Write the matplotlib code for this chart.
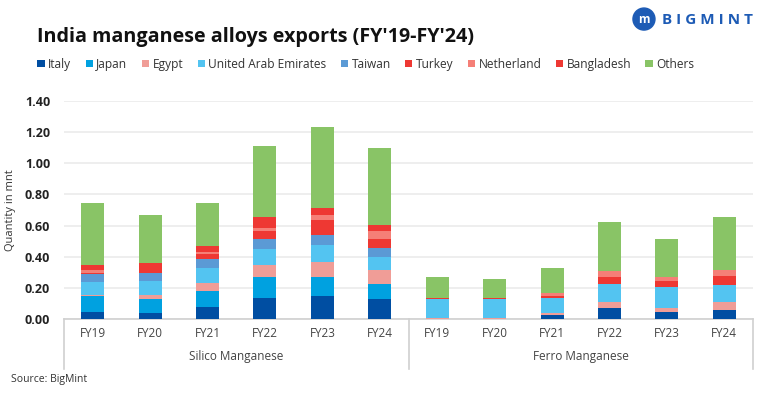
import matplotlib.pyplot as plt
import numpy as np
from matplotlib.patches import Ellipse

plt.rcParams['font.family'] = ['Open Sans', 'DejaVu Sans']

# categories
years = ['FY19', 'FY20', 'FY21', 'FY22', 'FY23', 'FY24']
groups = ['Silico Manganese', 'Ferro Manganese']

# values in mnt: first 6 = Silico, last 6 = Ferro
italy      = [0.045, 0.039, 0.077, 0.135, 0.148, 0.129,  0.000, 0.000, 0.026, 0.071, 0.045, 0.058]
japan      = [0.103, 0.090, 0.104, 0.136, 0.123, 0.097,  0.000, 0.000, 0.000, 0.000, 0.000, 0.000]
egypt      = [0.009, 0.026, 0.047, 0.077, 0.097, 0.090,  0.009, 0.009, 0.013, 0.041, 0.028, 0.054]
uae        = [0.082, 0.090, 0.101, 0.104, 0.109, 0.084,  0.120, 0.120, 0.096, 0.114, 0.133, 0.107]
taiwan     = [0.053, 0.052, 0.058, 0.064, 0.065, 0.058,  0.000, 0.000, 0.000, 0.000, 0.000, 0.000]
turkey     = [0.005, 0.064, 0.032, 0.052, 0.097, 0.058,  0.009, 0.009, 0.013, 0.045, 0.039, 0.058]
netherland = [0.015, 0.000, 0.009, 0.019, 0.032, 0.052,  0.000, 0.000, 0.018, 0.039, 0.026, 0.039]
bangladesh = [0.036, 0.000, 0.043, 0.065, 0.045, 0.038,  0.000, 0.000, 0.000, 0.000, 0.000, 0.000]
others     = [0.400, 0.310, 0.277, 0.458, 0.516, 0.491,  0.133, 0.120, 0.163, 0.316, 0.245, 0.336]

series = [
    ('Italy', italy, '#004EA2'),
    ('Japan', japan, '#00A1E0'),
    ('Egypt', egypt, '#F09D97'),
    ('United Arab Emirates', uae, '#53C4F1'),
    ('Taiwan', taiwan, '#5B9AD5'),
    ('Turkey', turkey, '#EE3833'),
    ('Netherland', netherland, '#F57F77'),
    ('Bangladesh', bangladesh, '#EE3833'),
    ('Others', others, '#89C466'),
]

fig = plt.figure(figsize=(7.63, 3.97), dpi=100)
ax = fig.add_axes([0.0839, 0.1965, 0.903, 0.549])

x = np.arange(12)
bottom = np.zeros(12)
for name, vals, col in series:
    ax.bar(x, vals, 0.4, bottom=bottom, color=col, label=name, zorder=3)
    bottom += np.array(vals)

ax.set_xlim(-0.5, 11.5)
ax.set_ylim(0, 1.4)
ax.set_yticks(np.arange(0, 1.41, 0.2))
ax.set_yticklabels([f'{v:.2f}' for v in np.arange(0, 1.41, 0.2)],
                   fontsize=9, fontweight='bold', color='#222222')
ax.tick_params(axis='y', length=0, pad=10)
ax.grid(axis='y', color='#EBEBEB', lw=1.2, zorder=0)
ax.set_xticks([])
for s in ['top', 'right', 'left']:
    ax.spines[s].set_visible(False)
ax.spines['bottom'].set_color('#D0D0D0')
ax.spines['bottom'].set_linewidth(1.2)
ax.set_ylabel('Quantity in mnt', fontsize=8, color='#333333', labelpad=6)

# category labels
trans = ax.get_xaxis_transform()
for i in range(12):
    ax.text(i, -0.065, years[i % 6], transform=trans, ha='center', va='center',
            fontsize=8.5, color='#444444')
for g, name in enumerate(groups):
    ax.text(g * 6 + 2.5, -0.17, name, transform=trans, ha='center', va='center',
            fontsize=8.5, color='#444444')
for xv in [-0.5, 5.5, 11.5]:
    ax.plot([xv, xv], [0, -0.23], transform=trans, color='#D0D0D0', lw=1.2,
            clip_on=False)

fig.text(0.048, 0.908, "India manganese alloys exports (FY'19-FY'24)",
         fontsize=14.2, fontweight='bold', color='#111111', va='center')

fig.legend(loc='center left', bbox_to_anchor=(0.035, 0.838), ncol=9, frameon=False,
           fontsize=8.6, handlelength=0.6, handleheight=0.6, handletextpad=0.3,
           columnspacing=1.2, labelcolor='#333333')

fig.text(0.015, 0.043, 'Source: BigMint', fontsize=7.5, color='#333333', va='center')

# logo
fig.add_artist(Ellipse((0.844, 0.952), 22 / 763, 22 / 397, transform=fig.transFigure,
                       color='#1D5BB5'))
fig.text(0.844, 0.950, 'm', fontsize=8.5, fontweight='bold', color='white',
         ha='center', va='center')
fig.text(0.867, 0.950, 'B I G M I N T', fontsize=11, fontweight='bold', color='#1D5BB5',
         va='center')

fig.savefig('out.png', dpi=100)
